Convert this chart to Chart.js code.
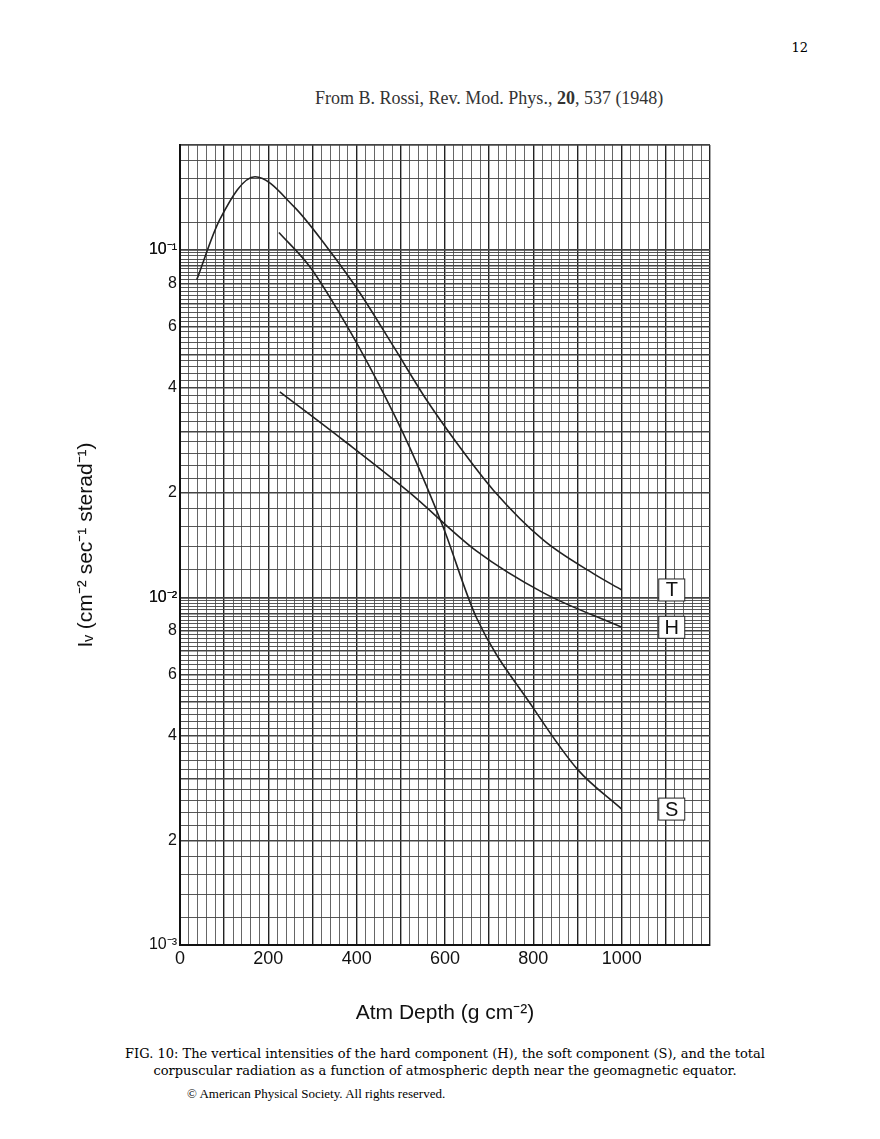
<!DOCTYPE html>
<html><head><meta charset="utf-8">
<script src="https://cdn.jsdelivr.net/npm/chart.js@4"></script>
<style>
body{margin:0;background:#fff;width:880px;height:1139px;position:relative;font-family:"DejaVu Serif",serif}
#pg{position:absolute;right:72px;top:40px;font-size:13px}
#src{position:absolute;left:315px;top:88px;font-size:18px;font-family:"Liberation Serif",serif;color:#333}
#wrap{position:absolute;left:70px;top:130px;width:660px;height:900px}
#cap{position:absolute;left:85px;top:1045px;width:720px;font-size:13px;text-align:center;line-height:17px}
#copy{position:absolute;left:187px;top:1086px;font-size:13px;font-family:"Liberation Serif",serif}
</style></head><body>
<div id="pg">12</div>
<div id="src">From B. Rossi, Rev. Mod. Phys., <b>20</b>, 537 (1948)</div>
<div id="wrap"><canvas id="c"></canvas></div>
<div id="cap">FIG. 10: The vertical intensities of the hard component (H), the soft component (S), and the total corpuscular radiation as a function of atmospheric depth near the geomagnetic equator.</div>
<div id="copy">© American Physical Society. All rights reserved.</div>
<script>
const depthT=[38,90,170,258,332,407,484,558,633,710,823,936,1000];
const valT=[0.082,0.122,0.162,0.133,0.102,0.0752,0.0525,0.037,0.0271,0.0203,0.0146,0.0117,0.0105];
const depthH=[226,370,520,671,823,1000];
const valH=[0.039,0.0283,0.020,0.0136,0.0103,0.0082];
const depthS=[224,294,370,445,520,596,671,800,900,1000];
const valS=[0.112,0.0893,0.0628,0.0422,0.027,0.0159,0.00875,0.0048,0.0032,0.00246];
const xLabels=[0,200,400,600,800,1000];
const yMajor=[0.001,0.01,0.1];
const yLabeled=[2,4,6,8];
const labelsTHS=[["T",1050,0.0105],["H",1050,0.0082],["S",1050,0.00246]];
const mk=(d,v)=>d.map((x,i)=>({x:x,y:v[i]}));
const ds=[mk(depthT,valT),mk(depthH,valH),mk(depthS,valS)].map(d=>({data:d,borderColor:'#222',borderWidth:1.6,pointRadius:0,cubicInterpolationMode:'monotone',fill:false}));
const lab={id:'lab',afterDatasetsDraw(ch){const c=ch.ctx,xs=ch.scales.x,ys=ch.scales.y;c.save();c.font='20px "Liberation Sans"';c.textAlign='center';c.textBaseline='middle';
labelsTHS.forEach(([t,x,y])=>{const px=xs.getPixelForValue(x)+28,py=ys.getPixelForValue(y);c.fillStyle='#fff';c.fillRect(px-13,py-11,26,22);c.strokeStyle='#222';c.strokeRect(px-13,py-11,26,22);c.fillStyle='#111';c.fillText(t,px,py+1);});c.restore();}};
new Chart(document.getElementById('c'),{type:'line',data:{datasets:ds},plugins:[lab],
options:{responsive:true,maintainAspectRatio:false,animation:false,layout:{padding:{top:15,right:20}},
plugins:{legend:{display:false},tooltip:{enabled:false}},
scales:{
x:{type:'linear',min:0,max:1200,afterFit(s){s.height=85},
 afterBuildTicks(s){const t=[];for(let v=0;v<=1200;v+=20)t.push({value:v});s.ticks=t;},
 ticks:{autoSkip:false,maxRotation:0,color:'#111',font:{size:18,family:'Liberation Sans'},callback:v=>xLabels.includes(v)?String(v):''},
 grid:{color:c=>c.tick.value%100===0?'#222':'#555',lineWidth:c=>c.tick.value%100===0?1.4:0.9,drawTicks:false},border:{color:'#111',width:2},
 title:{display:true,text:'Atm Depth (g cm⁻²)',font:{size:21,family:'Liberation Sans'},color:'#111'}},
y:{type:'logarithmic',min:0.001,max:0.2,afterFit(s){s.width=110},
 afterBuildTicks(s){const t=[];for(const d of [0.001,0.01,0.1]){for(let m=1;m<10;m+=0.2){const v=+(m*d).toPrecision(4);if(v<=0.2001)t.push({value:v});}}t.push({value:0.2});s.ticks=t;},
 ticks:{autoSkip:false,color:'#111',font:{size:16,family:'Liberation Sans'},callback:v=>{const e=Math.round(Math.log10(v));if(yMajor.some(m=>Math.abs(v-m)<m*1e-6))return '10'+(e===-1?'⁻¹':e===-2?'⁻²':'⁻³');const d=Math.pow(10,Math.floor(Math.log10(v)+1e-9));const m=Math.round(v/d*10)/10;return (yLabeled.includes(m)&&v<0.15)?String(m):'';}},
 grid:{color:c=>'#444',lineWidth:c=>{const v=c.tick.value,d=Math.pow(10,Math.floor(Math.log10(v)+1e-9)),m=Math.round(v/d*10)/10;return Number.isInteger(m)?1.4:0.9},drawTicks:false},border:{color:'#111',width:2},
 title:{display:true,text:'I\u1D65 (cm⁻² sec⁻¹ sterad⁻¹)',font:{size:21,family:'Liberation Sans'},color:'#111'}}
}}});
</script></body></html>
